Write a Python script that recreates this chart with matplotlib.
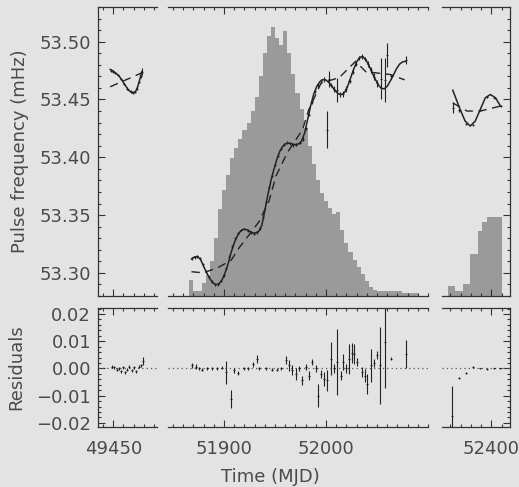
import numpy as np
import matplotlib
matplotlib.use("Agg")
import matplotlib.pyplot as plt
from matplotlib.ticker import MultipleLocator, FixedLocator, NullFormatter

plt.rcParams['font.family'] = ['DejaVu Sans']

# ---- panel time ranges (MJD) ----
left_lim = (49435, 49493)
mid_lim = (51845, 52100)
right_lim = (52352, 52418)
freq_lim = (53.280, 53.530)
res_lim = (-0.0215, 0.0222)

# ---- flux histogram (drawn in frequency units) ----
hist_start = 51866
hist_width = 4
hist_tops = [53.294, 53.2845, 53.2845, 53.291, 53.298, 53.310, 53.330, 53.355, 53.372, 53.385,
             53.399, 53.408, 53.416, 53.424, 53.430, 53.440, 53.452, 53.470, 53.490, 53.505,
             53.513, 53.503, 53.497, 53.509, 53.490, 53.472, 53.456, 53.442, 53.425, 53.410,
             53.394, 53.380, 53.369, 53.362, 53.356, 53.351, 53.353, 53.337, 53.326, 53.318,
             53.311, 53.305, 53.299, 53.293, 53.288, 53.2855, 53.2845, 53.2845, 53.2845, 53.2845,
             53.2845, 53.2845, 53.283, 53.283, 53.283, 53.283]
hist2_edges = [52358, 52365, 52372, 52379, 52387, 52391, 52396, 52410]
hist2_tops = [53.289, 53.2845, 53.2905, 53.316, 53.336, 53.344, 53.348]

# ---- left segment ----
left_t = [49448, 49450, 49452, 49455, 49458, 49461, 49464, 49467, 49469, 49471, 49473, 49475, 49477, 49478]
left_f = [53.475, 53.4742, 53.473, 53.471, 53.4675, 53.4635, 53.4595, 53.457, 53.456, 53.4565,
          53.4595, 53.465, 53.470, 53.474]
left_e = [0.001] * 13 + [0.003]
left_fit_t = [49447, 49450, 49453, 49456, 49459, 49462, 49465, 49468, 49470, 49472, 49474, 49476, 49478]
left_fit_f = [53.476, 53.4745, 53.4725, 53.470, 53.466, 53.462, 53.458, 53.456, 53.4558, 53.457,
              53.461, 53.467, 53.474]
left_alt_t = [49447, 49478]
left_alt_f = [53.461, 53.473]

# ---- middle segment ----
mid_t = [51869, 51871, 51873, 51876, 51879, 51882, 51885, 51888, 51891, 51894,
         51897, 51900, 51902, 51905, 51908, 51911, 51914, 51917, 51920, 51923,
         51926, 51929, 51932, 51935, 51938, 51941, 51944, 51947, 51950, 51953,
         51956, 51959, 51962, 51965, 51968, 51971, 51974, 51977, 51980, 51983,
         51986, 51989, 51992, 51995, 51998, 52001, 52003, 52005, 52008, 52011,
         52014, 52017, 52020, 52023, 52026, 52029, 52032, 52035, 52038, 52041,
         52044, 52047, 52050, 52054, 52058, 52060, 52064, 52078]
mid_f = [53.3125, 53.3135, 53.3145, 53.3125, 53.3075, 53.3015, 53.2965, 53.2925, 53.2900, 53.2900,
         53.2930, 53.2980, 53.3040, 53.3140, 53.3230, 53.3300, 53.3345, 53.3370, 53.3380, 53.3365,
         53.3350, 53.3340, 53.3350, 53.3385, 53.3480, 53.3610, 53.3740, 53.3840, 53.3935, 53.4015,
         53.4075, 53.4110, 53.4125, 53.4120, 53.4105, 53.4110, 53.4125, 53.4160, 53.4250, 53.4370,
         53.4480, 53.4570, 53.4625, 53.4660, 53.4675, 53.4240, 53.4680, 53.4625, 53.4590, 53.4585,
         53.4545, 53.4550, 53.4590, 53.4660, 53.4740, 53.4810, 53.4860, 53.4870, 53.4850, 53.4805,
         53.4755, 53.4695, 53.4640, 53.4680, 53.4670, 53.4885, 53.4700, 53.4840]
mid_e = [0.0012, 0.0012, 0.0012, 0.0012, 0.0012, 0.0012, 0.0012, 0.0012, 0.0012, 0.0012,
         0.0012, 0.0012, 0.0012, 0.0012, 0.0012, 0.0012, 0.0012, 0.0012, 0.0012, 0.0012,
         0.0012, 0.0012, 0.0012, 0.0012, 0.0012, 0.0012, 0.0012, 0.0012, 0.0012, 0.0012,
         0.0012, 0.0012, 0.0012, 0.0012, 0.0012, 0.0012, 0.0012, 0.0015, 0.0015, 0.0015,
         0.0015, 0.0015, 0.0020, 0.0020, 0.0020, 0.0160, 0.0070, 0.0020, 0.0025, 0.0105,
         0.0020, 0.0025, 0.0025, 0.0020, 0.0020, 0.0020, 0.0020, 0.0020, 0.0020, 0.0025,
         0.0025, 0.0030, 0.0030, 0.0180, 0.0190, 0.0105, 0.0020, 0.0035]
mid_fit_t = [51868, 51871, 51874, 51877, 51880, 51883, 51886, 51889, 51892, 51895,
             51898, 51901, 51904, 51907, 51910, 51913, 51916, 51919, 51922, 51925,
             51928, 51931, 51934, 51937, 51940, 51943, 51946, 51949, 51952, 51955,
             51958, 51961, 51964, 51967, 51970, 51973, 51976, 51979, 51982, 51985,
             51988, 51991, 51994, 51997, 52000, 52003, 52006, 52009, 52012, 52015,
             52018, 52021, 52024, 52027, 52030, 52033, 52036, 52039, 52042, 52045,
             52048, 52051, 52054, 52057, 52060, 52063, 52066, 52069, 52072, 52075, 52078]
mid_fit_f = [53.3120, 53.3138, 53.3142, 53.3115, 53.3055, 53.3000, 53.2950, 53.2915, 53.2897, 53.2905,
             53.2940, 53.3000, 53.3080, 53.3180, 53.3260, 53.3320, 53.3360, 53.3378, 53.3375, 53.3360,
             53.3345, 53.3345, 53.3360, 53.3410, 53.3540, 53.3680, 53.3800, 53.3900, 53.3990, 53.4060,
             53.4100, 53.4120, 53.4122, 53.4115, 53.4110, 53.4115, 53.4140, 53.4210, 53.4330, 53.4450,
             53.4550, 53.4615, 53.4655, 53.4672, 53.4668, 53.4645, 53.4610, 53.4575, 53.4550, 53.4542,
             53.4560, 53.4610, 53.4685, 53.4760, 53.4825, 53.4865, 53.4872, 53.4845, 53.4795, 53.4735,
             53.4680, 53.4630, 53.4598, 53.4592, 53.4615, 53.4660, 53.4710, 53.4765, 53.4805, 53.4825, 53.4830]
mid_alt_t = [51868, 51880, 51895, 51907, 51915, 51925, 51934, 51944, 51951, 51962,
             51977, 51983, 51995, 52013, 52029, 52039, 52063, 52077]
mid_alt_f = [53.301, 53.300, 53.305, 53.311, 53.322, 53.3335, 53.344, 53.362, 53.384, 53.404,
             53.424, 53.441, 53.464, 53.469, 53.483, 53.474, 53.4716, 53.467]

# ---- right segment ----
right_t = [52362.5, 52369, 52375, 52382, 52389, 52396, 52403, 52409]
right_f = [53.443, 53.4405, 53.429, 53.428, 53.441, 53.452, 53.4515, 53.4445]
right_e = [0.005, 0.001, 0.001, 0.001, 0.001, 0.001, 0.001, 0.001]
right_fit_t = [52362.5, 52369.6, 52374.5, 52379.4, 52384.3, 52389.2, 52394.1, 52399, 52403.9, 52408.8]
right_fit_f = [53.458, 53.4414, 53.4313, 53.427, 53.4313, 53.4414, 53.4515, 53.4543, 53.4515, 53.4443]
right_alt_t = [52362.5, 52376.2, 52389.2, 52408.8]
right_alt_f = [53.447, 53.440, 53.440, 53.4443]

# ---- residuals ----
left_res_t = [49448.7, 49451, 49453.4, 49455.4, 49457.8, 49459.8, 49461.8, 49463.7, 49465.7,
              49468.1, 49470.6, 49472.5, 49475, 49477, 49478.9]
left_res = [0.0007, 0.0004, -0.0004, 0.0, -0.0011, 0.0004, -0.0014, -0.0004, 0.0007,
            -0.0007, 0.0004, -0.0011, 0.0007, 0.0011, 0.0026]
left_res_e = [0.0006] * 14 + [0.0015]
mid_res_t = [51868.9, 51872.3, 51875.5, 51878.7, 51883.6, 51888.5, 51893.4, 51898.3, 51901.7, 51906.6,
             51909.8, 51914.0, 51919.6, 51923.8, 51928.4, 51932.6, 51934.3, 51940.9, 51947.4, 51952.3,
             51955.6, 51960.5, 51963.7, 51967.0, 51970.3, 51973.5, 51976.2, 51980.1, 51983.3, 51986.6,
             51989.9, 51992.5, 51994.8, 51998.0, 52001.3, 52004.6, 52007.8, 52011.1, 52014.4, 52016.7,
             52019.3, 52022.5, 52025.2, 52027.5, 52030.7, 52035.6, 52038.2, 52040.5, 52043.8, 52047.0,
             52050.3, 52052.6, 52057.8, 52063.4, 52078.1]
mid_res = [0.0011, 0.0007, 0.0, -0.0005, 0.0, 0.0001, 0.0, 0.0003, -0.0014, -0.0111,
           -0.0007, -0.0017, 0.0001, 0.0, 0.0015, 0.0036, 0.0, 0.0, -0.0005, -0.0005,
           0.0, 0.0030, 0.0011, -0.0007, -0.0020, 0.0, -0.0044, 0.0005, -0.0026, 0.0023,
           0.0, -0.0100, -0.0020, -0.0038, -0.0044, 0.0036, 0.0, 0.0023, -0.0026, 0.0023,
           0.0, 0.0036, 0.0057, 0.0054, 0.0023, -0.0014, -0.0026, -0.0057, 0.0011, 0.0020,
           0.0048, 0.0011, 0.0097, 0.0036, 0.0052]
mid_res_e = [0.0008, 0.0008, 0.0005, 0.0005, 0.0005, 0.0005, 0.0005, 0.0005, 0.0043, 0.0033,
             0.0008, 0.0008, 0.0005, 0.0005, 0.0008, 0.0015, 0.0006, 0.0006, 0.0006, 0.0006,
             0.0006, 0.0015, 0.0020, 0.0018, 0.0022, 0.0010, 0.0018, 0.0012, 0.0015, 0.0012,
             0.0012, 0.0043, 0.0015, 0.0025, 0.0037, 0.0060, 0.0015, 0.0120, 0.0018, 0.0030,
             0.0015, 0.0055, 0.0037, 0.0037, 0.0015, 0.0018, 0.0024, 0.0037, 0.0060, 0.0015,
             0.0015, 0.0140, 0.0170, 0.0005, 0.0052]
right_res_t = [52361.5, 52368.9, 52375.5, 52382.4, 52389.2, 52396.1, 52402.9, 52408.8]
right_res = [-0.0174, -0.0035, -0.0017, 0.0005, 0.0, -0.0002, 0.0, 0.0]
right_res_e = [0.011, 0.0005, 0.0005, 0.0003, 0.0003, 0.0003, 0.0003, 0.0003]

bg = '#e3e3e3'
ink = '#222222'
txt = '#4a4a4a'
hist_col = '#9a9a9a'

fig = plt.figure(figsize=(5.19, 4.87), dpi=100, facecolor=bg)

cols = [(0.1888, 0.1137, left_lim), (0.3237, 0.5010, mid_lim), (0.8516, 0.1310, right_lim)]
rows = [(0.3922, 0.5934), (0.1232, 0.2444)]
majors = [[49450], [51900, 52000], [52400]]

axes = []
for r, (yb, yh) in enumerate(rows):
    row = []
    for c, (xl, xw, lim) in enumerate(cols):
        ax = fig.add_axes([xl, yb, xw, yh])
        ax.set_facecolor('none')
        ax.set_xlim(lim)
        ax.set_ylim(freq_lim if r == 0 else res_lim)
        for s in ax.spines.values():
            s.set_color('#333333')
            s.set_linewidth(0.9)
        ax.spines['left'].set_visible(c == 0)
        ax.spines['right'].set_visible(c == 2)
        ax.xaxis.set_major_locator(FixedLocator(majors[c]))
        ax.xaxis.set_minor_locator(MultipleLocator(10))
        if r == 0:
            ax.yaxis.set_major_locator(MultipleLocator(0.05))
            ax.yaxis.set_minor_locator(MultipleLocator(0.01))
            ax.xaxis.set_major_formatter(NullFormatter())
        else:
            ax.yaxis.set_major_locator(MultipleLocator(0.01))
            ax.yaxis.set_minor_locator(MultipleLocator(0.002))
        ax.tick_params(which='both', direction='in', top=True, bottom=True,
                       left=(c == 0), right=(c == 2), labelleft=(c == 0), labelright=False,
                       colors='#333333', labelcolor=txt, labelsize=13, width=0.8)
        ax.tick_params(which='major', length=5)
        ax.tick_params(which='minor', length=2.5)
        ax.tick_params(axis='x', which='major', pad=9)
        ax.tick_params(axis='y', which='major', pad=5)
        row.append(ax)
    axes.append(row)

# histograms
ax = axes[0][1]
hist_edges = hist_start + hist_width * np.arange(len(hist_tops) + 1)
ax.stairs(hist_tops, hist_edges, baseline=freq_lim[0], fill=True, color=hist_col, lw=0)
axes[0][2].stairs(hist2_tops, hist2_edges, baseline=freq_lim[0], fill=True, color=hist_col, lw=0)

eb = dict(fmt='none', ecolor=ink, elinewidth=0.8, capsize=0)
top_sets = [(left_t, left_f, left_e, left_fit_t, left_fit_f, left_alt_t, left_alt_f),
            (mid_t, mid_f, mid_e, mid_fit_t, mid_fit_f, mid_alt_t, mid_alt_f),
            (right_t, right_f, right_e, right_fit_t, right_fit_f, right_alt_t, right_alt_f)]
for ax, (t, f, e, ft, ff, at, af) in zip(axes[0], top_sets):
    ax.errorbar(t, f, yerr=e, xerr=1.0, **eb)
    ax.plot(ft, ff, color=ink, lw=1.1)
    ax.plot(at, af, color=ink, lw=1.0, dashes=(6, 4))

res_sets = [(left_res_t, left_res, left_res_e), (mid_res_t, mid_res, mid_res_e),
            (right_res_t, right_res, right_res_e)]
for ax, (t, rr, e) in zip(axes[1], res_sets):
    ax.axhline(0, color='#555555', lw=0.9, ls=(0, (1, 2.5)))
    ax.errorbar(t, rr, yerr=e, xerr=1.0, **eb)

fig.text(0.039, 0.690, 'Pulse frequency (mHz)', rotation=90, ha='center', va='center',
         fontsize=13, color=txt)
fig.text(0.031, 0.247, 'Residuals', rotation=90, ha='center', va='center',
         fontsize=13, color=txt)
fig.text(0.52, 0.021, 'Time (MJD)', ha='center', va='center', fontsize=13, color=txt)

fig.savefig('out.png', dpi=100, facecolor=bg)
